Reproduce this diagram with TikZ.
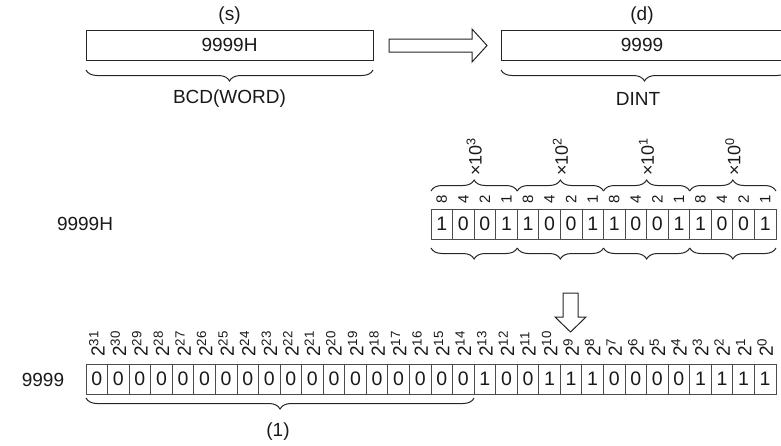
\documentclass[tikz,border=0pt]{standalone}
\usepackage{fontspec}
\setmainfont{Liberation Sans}
\usetikzlibrary{decorations.pathreplacing}
\begin{document}
\begin{tikzpicture}[x=1pt,y=-1pt,
  txt/.style={font=\fontsize{19}{22}\selectfont, text=black!90, inner sep=0pt},
  bigbox/.style={draw=black!85, line width=1pt, minimum width=287pt, minimum height=30pt, inner sep=0pt, font=\fontsize{19}{22}\selectfont, text=black!90},
  cell/.style={draw=black!70, line width=0.8pt, minimum width=21.56pt, minimum height=30pt, inner sep=0pt, font=\fontsize{19.5}{22}\selectfont, text=black!90},
  wlab/.style={rotate=90, anchor=west, inner sep=0pt, font=\fontsize{15}{17}\selectfont, text=black!90},
  plab/.style={rotate=90, anchor=west, inner sep=0pt, font=\fontsize{18}{20}\selectfont, text=black!90},
  elab/.style={rotate=90, anchor=west, inner sep=0pt, font=\fontsize{19}{21}\selectfont, text=black!90},
  brc/.style={decorate, decoration={brace, amplitude=11pt}, draw=black!85, line width=1pt},
  hollow/.style={draw=black!85, fill=white, line width=1pt, line join=miter}
]
\useasboundingbox (0,0) rectangle (781,445);

% top boxes
\node[txt] (slab) at (229.5,16) {(s)};
\node[bigbox] (sbox) at (229.5,45) {9999H};
\coordinate (sbl) at (86,70);
\coordinate (sbr) at (373,70);
\draw[brc] (sbr) -- (sbl);
\node[txt] (stype) at (229.5,99) {BCD(WORD)};

\node[txt] (dlab) at (642,16) {(d)};
\node[bigbox] (dbox) at (644.5,45) {};
\node[txt] (dval) at (642,45) {9999};
\coordinate (dbl) at (501,70);
\coordinate (dbr) at (788,70);
\draw[brc] (dbr) -- (dbl);
\node[txt] (dtype) at (638,99) {DINT};

% right hollow arrow
\draw[hollow] (389,39) -- (472,39) -- (472,29) -- (487,45.5) -- (472,62) -- (472,52) -- (389,52) -- cycle;

% 16-bit BCD row
\node[txt] (hlab) at (85,224) {9999H};
\foreach \v [count=\i from 0] in {1,0,0,1,1,0,0,1,1,0,0,1,1,0,0,1} {
  \node[cell] (b\i) at ({431+(\i+0.5)*21.56},224) {\v};
}
\foreach \w [count=\i from 0] in {8,4,2,1,8,4,2,1,8,4,2,1,8,4,2,1} {
  \node[wlab] (w\i) at ({431+(\i+0.5)*21.56},203.5) {\w};
}
\foreach \g/\p in {0/3,1/2,2/1,3/0} {
  \coordinate (ul\g) at ({431+4*\g*21.56},191);
  \coordinate (ur\g) at ({431+4*(\g+1)*21.56},191);
  \draw[brc] (ul\g) -- (ur\g);
  \node[plab] (p\g) at ({431+(4*\g+2)*21.56},176) {×10\textsuperscript{\p}};
  \coordinate (ll\g) at ({431+4*\g*21.56},248);
  \coordinate (lr\g) at ({431+4*(\g+1)*21.56},248);
  \draw[brc] (lr\g) -- (ll\g);
}

% down hollow arrow
\draw[hollow] (563,293) -- (578,293) -- (578,317) -- (586,317) -- (570.5,332) -- (555,317) -- (563,317) -- cycle;

% 32-bit row
\node[txt] (dlab2) at (43,380) {9999};
\foreach \v [count=\i from 0] in {0,0,0,0,0,0,0,0,0,0,0,0,0,0,0,0,0,0,1,0,0,1,1,1,0,0,0,0,1,1,1,1} {
  \node[cell] (c\i) at ({86+(\i+0.5)*21.56},379) {\v};
  \pgfmathtruncatemacro{\e}{31-\i}
  \node[elab] (e\i) at ({86+(\i+0.5)*21.56},357) {2\textsuperscript{\e}};
}
\coordinate (bl) at (86,398);
\coordinate (br) at ({86+18*21.56},398);
\draw[brc] (br) -- (bl);
\node[txt] (one) at (278,432) {(1)};
\end{tikzpicture}
\end{document}
